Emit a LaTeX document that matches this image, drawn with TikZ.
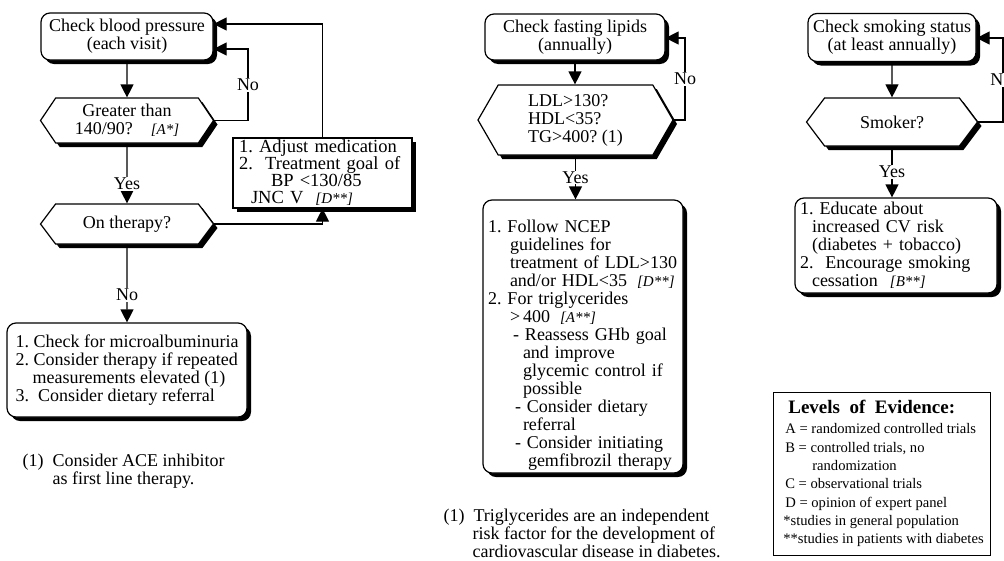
\documentclass[tikz,border=0pt]{standalone}
\usepackage{fontspec}
\setmainfont{Liberation Serif}
\usetikzlibrary{arrows.meta,shapes.symbols,shadows}
\newcommand{\evid}[1]{{\itshape\fontsize{15}{15}\selectfont[#1]}}
\frenchspacing

\begin{document}
\begin{tikzpicture}[x=1pt,y=-1pt,
  font=\fontsize{18}{18}\selectfont,
  line width=1.2pt,
  >={Triangle[length=13pt,width=13pt]},
  shd/.style={drop shadow={shadow xshift=4pt,shadow yshift=-4pt,fill=black,opacity=1}},
  rbox/.style={rectangle,rounded corners=9pt,draw,fill=white,shd,inner xsep=5pt,inner ysep=2pt,align=left},
  sbox/.style={rectangle,draw,fill=white,shd,inner xsep=6pt,inner ysep=1pt,align=left},
  hexa/.style={signal,signal to=west and east,draw,fill=white,shd,inner sep=2pt,align=center},
  lbl/.style={fill=white,inner sep=1pt},
  note/.style={align=left,inner sep=0pt,anchor=west}]
\useasboundingbox (0,0) rectangle (1004,560);

\coordinate (A) at (127,36.5);
\coordinate (B) at (127,120.5);
\coordinate (C) at (127,224);
\coordinate (D) at (322.5,173);
\coordinate (E) at (127,370);
\coordinate (F) at (575,37);
\coordinate (G) at (575.5,120);
\coordinate (H) at (583,336.5);
\coordinate (I) at (892,37.5);
\coordinate (J) at (892,122);
\coordinate (K) at (896,245.5);
\coordinate (L) at (881.5,473.5);
\coordinate (M) at (22,471);
\coordinate (N) at (443,533);
\coordinate (P) at (248,49);
\coordinate (Q) at (322,24);
\coordinate (R) at (685,38);
\coordinate (S) at (1003,38);


\node[rbox,align=center,minimum width=172pt,minimum height=47pt] (A1) at (A) {Check blood pressure\\(each visit)};
\node[hexa,minimum width=173pt,minimum height=45pt,signal pointer angle=112] (B1) at (B) {Greater than\\140/90?\hspace{18pt}\evid{A*}};
\node[hexa,minimum width=173pt,minimum height=40pt,signal pointer angle=106] (C1) at (C) {On therapy?};
\node[sbox,text width=167pt,minimum height=70pt,font=\fontsize{18.5}{17}\selectfont] (D1) at (D) {1. Adjust medication\\2.\ \ Treatment goal of\\\hspace*{32pt}BP <130/85\\\hspace*{12pt}JNC V\hspace{12pt}\evid{D**}};
\node[rbox,minimum width=240pt,minimum height=94pt] (E1) at (E) {1. Check for microalbuminuria\\2. Consider therapy if repeated\\\hspace*{17pt}measurements elevated (1)\\3.\ \ Consider dietary referral};
\node[rbox,align=center,minimum width=180pt,minimum height=46pt] (F1) at (F) {Check fasting lipids\\(annually)};
\node[hexa,minimum width=195pt,minimum height=70pt,signal pointer angle=120,align=left] (G1) at (G) {LDL>130?\\HDL<35?\\TG>400? (1)};
\node[rbox,text width=190pt,minimum height=273pt] (H1) at (H) {\rule{0pt}{30pt}1. Follow NCEP\\\hspace*{22pt}guidelines for\\\hspace*{22pt}treatment of LDL>130\\\hspace*{22pt}and/or HDL<35\hspace{10pt}\evid{D**}\\2. For triglycerides\\\hspace*{22pt}>\,400\hspace{10pt}\evid{A**}\\\hspace*{25pt}- Reassess GHb goal\\\hspace*{35pt}and improve\\\hspace*{35pt}glycemic control if\\\hspace*{35pt}possible\\\hspace*{27pt}- Consider dietary\\\hspace*{35pt}referral\\\hspace*{27pt}- Consider initiating\\\hspace*{40pt}gemfibrozil therapy};
\node[rbox,align=center,minimum width=168pt,minimum height=48pt] (I1) at (I) {Check smoking status\\(at least annually)};
\node[hexa,minimum width=171pt,minimum height=48pt,signal pointer angle=106] (J1) at (J) {Smoker?};
\node[rbox,text width=192pt,minimum height=95pt] (K1) at (K) {1. Educate about\\\hspace*{12pt}increased CV risk\\\hspace*{12pt}(diabetes + tobacco)\\2.\ \ Encourage smoking\\\hspace*{12pt}cessation\hspace{12pt}\evid{B**}};
\node[draw,line width=1pt,fill=white,inner xsep=4pt,minimum width=217pt,minimum height=163pt,align=left,font=\fontsize{14.6}{18.3}\selectfont] (L1) at (L) {{\bfseries\fontsize{19}{19}\selectfont\hspace*{9pt}Levels\ \ of\ \ Evidence:}\\[2pt]\hspace*{6pt}A = randomized controlled trials\\\hspace*{6pt}B = controlled trials, no\\\hspace*{33pt}randomization\\\hspace*{6pt}C = observational trials\\\hspace*{6pt}D = opinion of expert panel\\\hspace*{4pt}*studies in general population\\\hspace*{4pt}**studies in patients with diabetes};
\node[note] (M1) at (M) {(1)\ \ Consider ACE inhibitor\\\hspace*{30pt}as first line therapy.};
\node[note] (N1) at (N) {(1)\ \ Triglycerides are an independent\\\hspace*{29pt}risk factor for the development of\\\hspace*{29pt}cardiovascular disease in diabetes.};

\draw[->] (A1) -- (B1);
\draw[->] (B1.east) -| node[lbl,pos=0.75] {No} (P) -- (P -| A1.east);
\draw[->] (D1.north) |- (Q -| A1.east);
\draw[->] (B1) -- (C1) node[lbl,pos=0.67] {Yes};
\draw[->] (C1.east) -| (D1.south);
\draw[->] (C1) -- (E1) node[lbl,pos=0.65] {No};
\draw[->] (F1.south) -- (F1.south |- G1.north);
\draw[->] (G1.east) -| node[lbl,pos=0.75] {No} (R) -- (R -| F1.east);
\draw[->] (G1.south) -- (G1.south |- H1.north) node[lbl,midway] {Yes};
\draw[->] (I1) -- (J1);
\draw[->] (J1.east) -| node[lbl,pos=0.75,anchor=east,xshift=2pt] {N} (S) -- (S -| I1.east);
\draw[->] (J1.south) -- (J1.south |- K1.north) node[lbl,midway] {Yes};


\end{tikzpicture}
\end{document}
